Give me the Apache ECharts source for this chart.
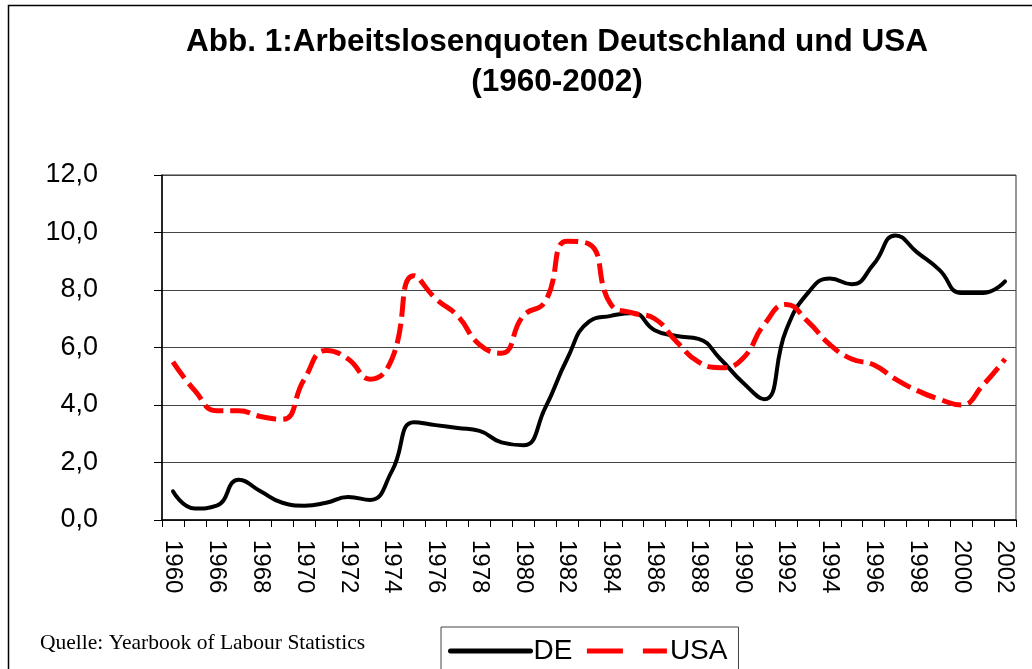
<!DOCTYPE html>
<html>
<head>
<meta charset="utf-8">
<title>Arbeitslosenquoten Deutschland und USA</title>
<script src="https://cdn.jsdelivr.net/npm/echarts@6/dist/echarts.min.js"></script>
<style>
  html, body { margin: 0; padding: 0; background: #fff; }
  #chart { width: 1032px; height: 669px; }
</style>
</head>
<body>
<div id="chart"></div>
<script>
// Jahre (1961-1964 fehlen in der Vorlage)
var years = ['1960', '1965', '1966', '1967', '1968', '1969', '1970', '1971', '1972', '1973',
             '1974', '1975', '1976', '1977', '1978', '1979', '1980', '1981', '1982', '1983',
             '1984', '1985', '1986', '1987', '1988', '1989', '1990', '1991', '1992', '1993',
             '1994', '1995', '1996', '1997', '1998', '1999', '2000', '2001', '2002'];

// Arbeitslosenquote Deutschland in %
var deRate = [1.0, 0.4, 0.5, 1.4, 1.0, 0.6, 0.5, 0.6, 0.8, 0.7,
              1.7, 3.4, 3.3, 3.2, 3.1, 2.7, 2.6, 3.9, 5.6, 6.9,
              7.1, 7.2, 6.6, 6.4, 6.3, 5.6, 4.8, 4.2, 6.6, 7.9,
              8.4, 8.2, 8.9, 9.9, 9.3, 8.7, 7.9, 7.9, 8.3];

// Arbeitslosenquote USA in %
var usaRate = [5.5, 4.5, 3.8, 3.8, 3.6, 3.5, 4.9, 5.9, 5.6, 4.9,
               5.6, 8.5, 7.7, 7.1, 6.1, 5.8, 7.1, 7.6, 9.7, 9.6,
               7.5, 7.2, 7.0, 6.2, 5.5, 5.3, 5.6, 6.8, 7.5, 6.9,
               6.1, 5.6, 5.4, 4.9, 4.5, 4.2, 4.0, 4.7, 5.6];

var seriesNames = ['DE', 'USA'];

var titleText = 'Abb. 1:Arbeitslosenquoten Deutschland und USA\n(1960-2002)';
var sourceText = 'Quelle: Yearbook of Labour Statistics';

var sans = '"Liberation Sans", Arial, sans-serif';
var serif = '"Liberation Serif", "Times New Roman", serif';

/**
 * Optionen fuer das Liniendiagramm
 */
var buildOption = function () {
    var option = {
        animation: false,
        backgroundColor: '#fff',
        textStyle: { fontFamily: sans, color: '#000' },
        title: {
            text: titleText,
            left: 557,
            top: 22,
            padding: 0,
            textAlign: 'center',
            textStyle: { fontFamily: sans, fontSize: 31.5, fontWeight: 'bold', lineHeight: 40, color: '#000' }
        },
        grid: {
            left: 162, right: 16, top: 175, bottom: 149,
            show: true,
            borderColor: '#333',
            borderWidth: 1
        },
        legend: {
            data: [
                { name: seriesNames[0], lineStyle: { width: 5, type: 'solid', color: '#000' } },
                { name: seriesNames[1], lineStyle: { width: 5, type: [36, 20], color: '#ff0000' } }
            ],
            left: 441,
            top: 627,
            padding: [10, 11, 30, 7],
            itemWidth: 80,
            itemHeight: 28,
            itemGap: 12,
            itemStyle: { opacity: 0 },
            borderColor: '#444',
            borderWidth: 1,
            textStyle: { fontFamily: sans, fontSize: 28, color: '#000', padding: [0, 0, 0, -2] }
        },
        xAxis: {
            type: 'category',
            data: years,
            boundaryGap: true,
            axisLine: { lineStyle: { color: '#000', width: 1.5 } },
            axisTick: { show: true, interval: 0, length: 7, lineStyle: { color: '#000' } },
            axisLabel: {
                interval: 1,
                rotate: -90,
                margin: 20,
                fontSize: 24,
                color: '#000',
                fontFamily: sans
            }
        },
        yAxis: {
            type: 'value',
            min: 0,
            max: 12,
            interval: 2,
            axisLine: { show: true, lineStyle: { color: '#000', width: 1.5 } },
            axisTick: { show: true, length: 8, lineStyle: { color: '#000' } },
            splitLine: { lineStyle: { color: '#444', width: 1 } },
            axisLabel: {
                margin: 64,
                fontSize: 27,
                color: '#000',
                fontFamily: sans,
                formatter: function (v) { return v.toFixed(1).replace('.', ','); }
            }
        },
        series: [
            {
                name: seriesNames[0],
                type: 'line',
                data: deRate,
                smooth: 0.5,
                symbol: 'none',
                lineStyle: { color: '#000', width: 4, cap: 'round', join: 'round' },
                itemStyle: { color: '#000' }
            },
            {
                name: seriesNames[1],
                type: 'line',
                data: usaRate,
                smooth: 0.5,
                symbol: 'none',
                lineStyle: { color: '#ff0000', width: 5, type: [20, 7] },
                itemStyle: { color: '#ff0000' }
            }
        ],
        graphic: [
            {
                type: 'rect',
                shape: { x: 8.5, y: 5.5, width: 1040, height: 700 },
                style: { fill: 'none', stroke: '#000', lineWidth: 1.5 },
                silent: true
            },
            {
                type: 'text',
                left: 40,
                top: 632,
                style: { text: sourceText, font: '21.5px ' + serif, fill: '#000' },
                silent: true
            }
        ]
    };
    return option;
};

var chart = echarts.init(document.getElementById('chart'));
chart.setOption(buildOption());
</script>
</body>
</html>
